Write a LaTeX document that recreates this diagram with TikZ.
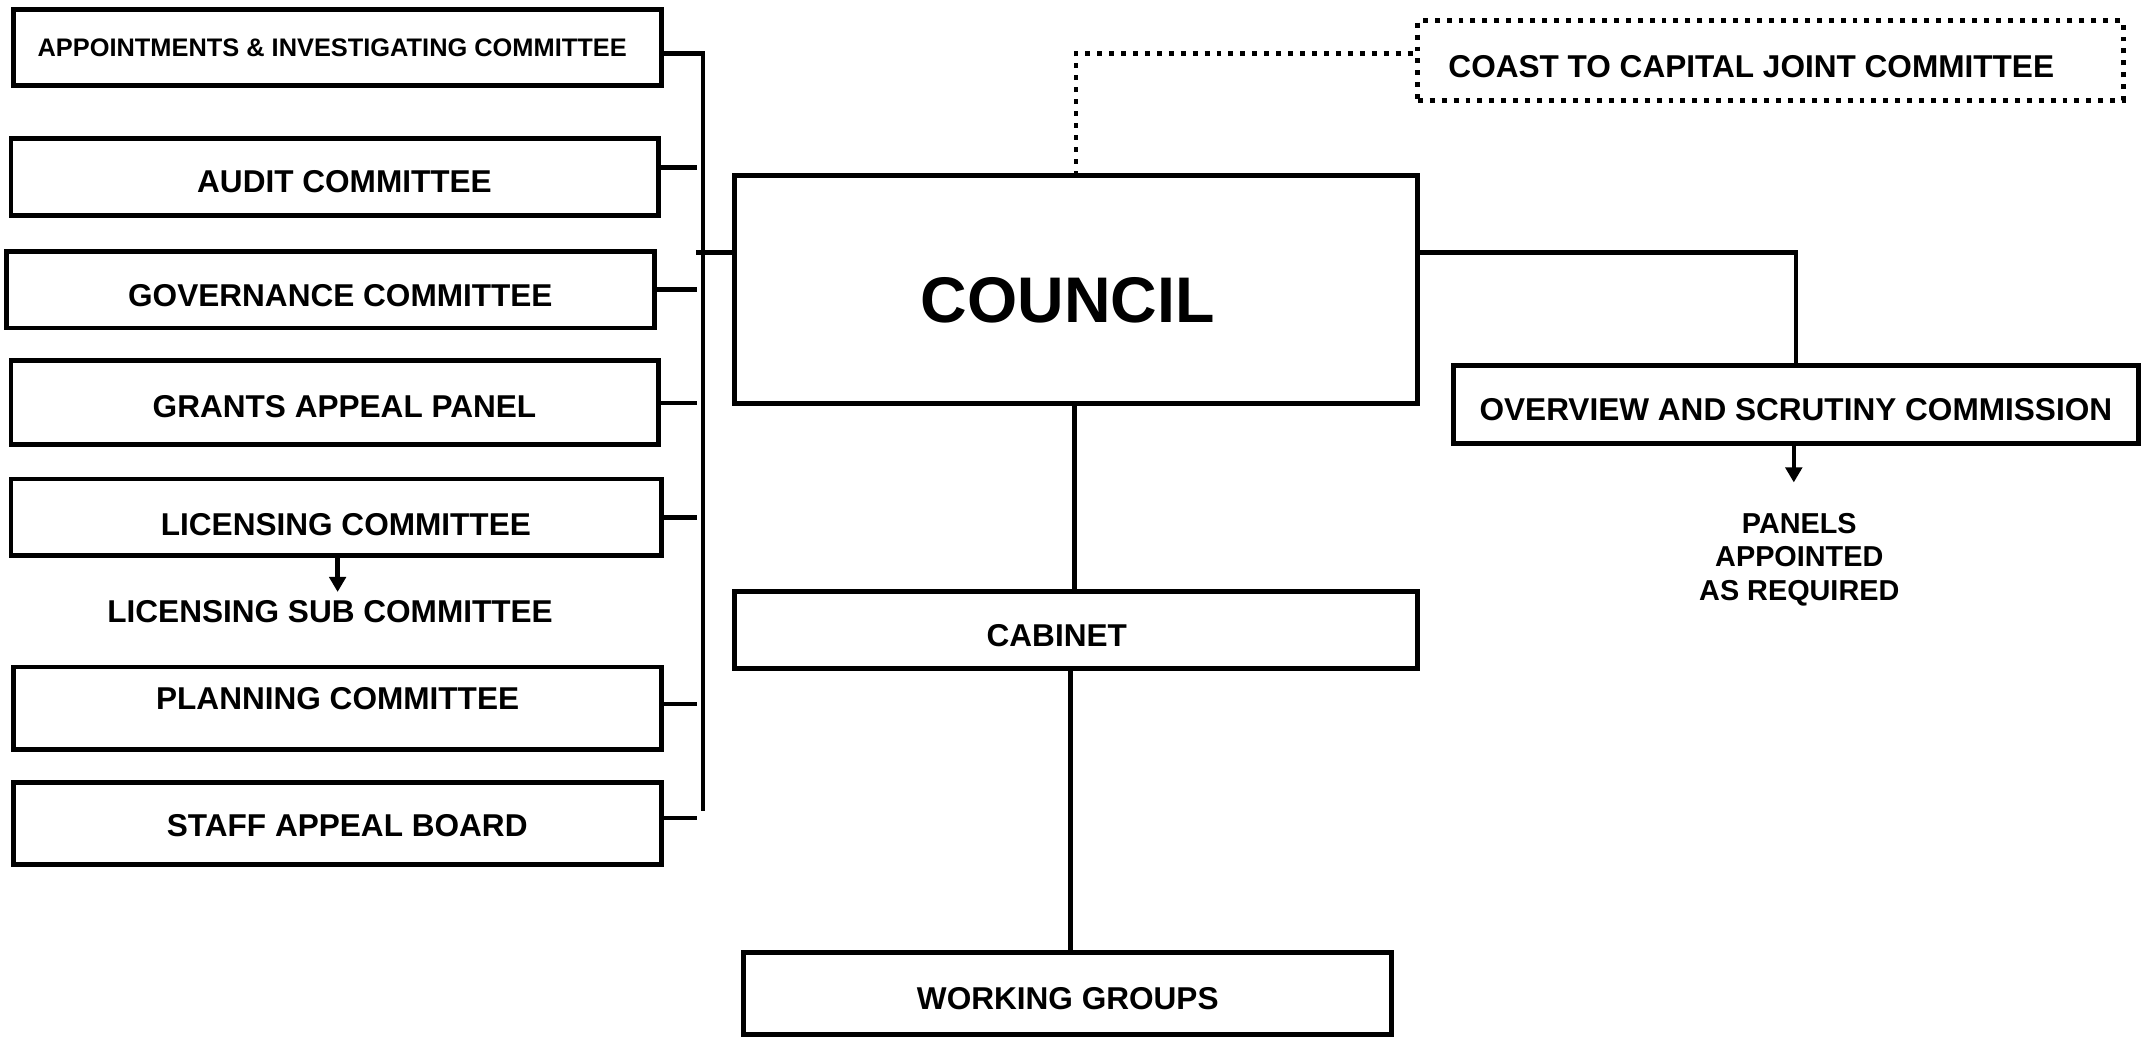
\documentclass[tikz,border=0pt]{standalone}
\usepackage{fontspec}
\setmainfont{Liberation Sans}
\usetikzlibrary{arrows.meta}
\newcommand{\Tx}[3]{\raisebox{\dimexpr #2-.358em\relax}[0pt][0pt]{\makebox[0pt]{\hspace*{#1}\hspace*{#1}#3}}}
\begin{document}
\begin{tikzpicture}[x=1pt,y=-1pt,
  box/.style={draw, line width=3.6pt, inner sep=0pt, outer sep=0pt, font=\fontsize{23}{28}\selectfont\bfseries},
  dotbox/.style={box, dash pattern=on 3.6pt off 5.1pt},
  conn/.style={line width=3.2pt},
  dots/.style={line width=3.6pt, dash pattern=on 3.6pt off 5.1pt},
  arr/.style={line width=3.2pt, -{Triangle[width=12pt,length=11pt]}},
  lbl/.style={inner sep=0pt, font=\fontsize{23}{28}\selectfont\bfseries}]
\useasboundingbox (0,0) rectangle (1568,756);

% left column
\node[box, minimum width=472pt, minimum height=55pt, font=\fontsize{18.5}{22}\selectfont\bfseries] (app) at (246,34.5) {\Tx{-4pt}{0pt}{APPOINTMENTS \& INVESTIGATING COMMITTEE}};
\node[box, minimum width=472pt, minimum height=56pt] (audit) at (244,129) {\Tx{7pt}{-3pt}{AUDIT COMMITTEE}};
\node[box, minimum width=472pt, minimum height=56pt] (gov) at (241,211) {\Tx{7pt}{-4pt}{GOVERNANCE COMMITTEE}};
\node[box, minimum width=472pt, minimum height=61pt] (grants) at (244,293.5) {\Tx{7pt}{-2.5pt}{GRANTS APPEAL PANEL}};
\node[box, minimum width=474pt, minimum height=56pt] (lic) at (245,377) {\Tx{7pt}{-5pt}{LICENSING COMMITTEE}};
\node[lbl] (lsub) at (240.5,445) {\Tx{0pt}{0pt}{LICENSING SUB COMMITTEE}};
\node[box, minimum width=472pt, minimum height=60pt] (plan) at (246,516) {\Tx{0pt}{7pt}{PLANNING COMMITTEE}};
\node[box, minimum width=472pt, minimum height=60pt] (staff) at (246,600) {\Tx{7pt}{-1pt}{STAFF APPEAL BOARD}};

% centre column
\node[box, minimum width=498pt, minimum height=166pt, font=\fontsize{47}{56}\selectfont\bfseries] (council) at (784,211) {\Tx{-6pt}{-7pt}{COUNCIL}};
\node[box, minimum width=498pt, minimum height=56pt] (cabinet) at (784,459) {\Tx{-14pt}{-4pt}{CABINET}};
\node[box, minimum width=472pt, minimum height=60pt] (wg) at (778,724) {\Tx{0pt}{-3pt}{WORKING GROUPS}};

% right column
\node[dotbox, minimum width=514pt, minimum height=58pt] (coast) at (1290,44) {\Tx{-14pt}{-4pt}{COAST TO CAPITAL JOINT COMMITTEE}};
\node[box, minimum width=499pt, minimum height=57pt] (over) at (1308.5,294.5) {\Tx{0pt}{-3.5pt}{OVERVIEW AND SCRUTINY COMMISSION}};
\node[inner sep=0pt, anchor=north, align=center, font=\fontsize{21}{24.5}\selectfont\bfseries] (panels) at (1311,373.5) {PANELS\\APPOINTED\\AS REQUIRED};

% bus on the left
\coordinate (bt) at (512,39);
\coordinate (bb) at (512,591);
\coordinate (sx) at (508,0);
\coordinate (bl) at (507,0);
\draw[conn] (app.east |- bt) -- (bt) -- (bb);
\coordinate (a1) at ([yshift=7pt]audit.east);
\draw[conn] (a1) -- (a1 -| sx);
\draw[conn] (gov.east) -- (gov.east -| sx);
\draw[conn] (grants.east) -- (grants.east -| sx);
\draw[conn] (lic.east) -- (lic.east -| sx);
\coordinate (p1) at ([yshift=3pt]plan.east);
\draw[conn] (p1) -- (p1 -| sx);
\coordinate (s1) at ([yshift=4pt]staff.east);
\draw[conn] (s1) -- (s1 -| sx);

% council links
\coordinate (cw) at ([yshift=27pt]council.west);
\draw[conn] (cw) -- (cw -| bl);
\coordinate (ce) at ([yshift=27pt]council.east);
\draw[conn] (ce) -| (over.north);
\coordinate (cst) at ([yshift=5pt]coast.west);
\draw[dots] (council.north) |- (cst);
\draw[conn] ([xshift=-1pt]council.south) -- ([xshift=-1pt]cabinet.north);
\coordinate (cb) at ([xshift=-4pt]cabinet.south);
\draw[conn] (cb) -- (cb |- wg.north);

% arrows
\coordinate (l1) at ([xshift=1pt]lic.south);
\draw[arr, shorten >=13pt] (l1) -- (l1 |- lsub.north);
\coordinate (o1) at ([xshift=-1.5pt]over.south);
\draw[arr, shorten >=22pt] (o1) -- (o1 |- panels.north);
\end{tikzpicture}
\end{document}
